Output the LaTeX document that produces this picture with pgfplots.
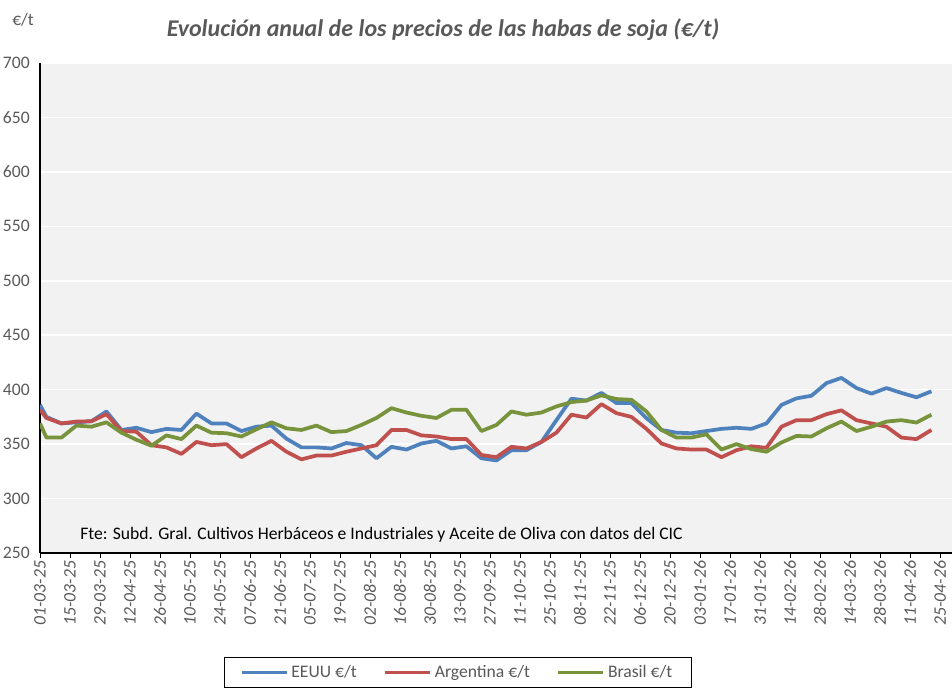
\documentclass[border=0pt]{standalone}
\usepackage{fontspec}
\setmainfont{Carlito}
\usepackage{pgfplots}
\usepackage{pgfplotstable}
\pgfplotsset{compat=1.18}

\definecolor{cblue}{HTML}{4F81BD}
\definecolor{cred}{HTML}{C0504D}
\definecolor{cgreen}{HTML}{77933C}
\definecolor{txtgray}{HTML}{595959}
\definecolor{bggray}{HTML}{F2F2F2}

% x = days since 01-03-25
\pgfplotstableread{
x   eeuu   arg    bra
0   386    381.5  369
3   375    374    356
10  369    369    356
17  370    370.7  367
24  371    371    366
31  380    377.5  370
38  363    362    360.5
45  365    361.4  354
52  361    349    348.5
59  364    347    358
66  363    341    354.6
73  378    352    367
80  369    349    360.5
87  369    350    360
94  362    338    357
101 366    346    363.6
108 367    353    370
115 355    343    364.5
122 347    336    363
129 347    339.5  367
136 346    339.5  361
143 351    343    362
150 349    346    367.6
157 337    349    374
164 347.5  363    383
171 345    363    379
178 350.6  358    376
185 353    357    374
192 346    354.6  381.5
199 348    354.6  381.5
206 337    340    362
213 335    338    367.6
220 344.4  347.5  380
227 344.4  346    377
234 352    352    379
241 372    360.5  384.6
248 391.7  377    388.6
255 390    374.4  390
262 397    386.7  394.8
269 387.7  378.4  391.4
276 387.7  375    390.7
283 373.8  364    380
290 363    350.6  363
297 360.5  346    356
304 360    345    356
311 362    345    359
318 364    338    345
325 365    344.4  350
332 364    348    345.4
339 369    346.6  343
346 386    366    351.5
353 392    372    357.5
360 394.4  372    357
367 406    377.5  364.5
374 410.8  381    370.7
381 401.5  372    362
388 396.3  369    366
395 401.5  366    370.7
402 397    356    372
409 393    354.6  369.8
416 398.5  363    377
}\soja

\begin{document}
\begin{tikzpicture}
\path[use as bounding box] (0,0) rectangle (714pt,516.75pt);
\begin{axis}[
  at={(30pt,102pt)}, anchor=south west,
  scale only axis, width=684pt, height=367.5pt,
  xmin=0, xmax=425.6, ymin=250, ymax=700,
  axis background/.style={fill=bggray},
  axis x line=bottom, axis y line=left,
  axis line style={black, line width=1pt, -},
  ytick={250,300,...,700},
  ymajorgrids, grid style={white, line width=1.2pt},
  ytick style={draw=none},
  yticklabel style={text=txtgray, inner sep=0pt, anchor=east, xshift=-3.75pt},
  xtick={0,14,...,420},
  xticklabels={01-03-25,15-03-25,29-03-25,12-04-25,26-04-25,10-05-25,24-05-25,07-06-25,21-06-25,05-07-25,19-07-25,02-08-25,16-08-25,30-08-25,13-09-25,27-09-25,11-10-25,25-10-25,08-11-25,22-11-25,06-12-25,20-12-25,03-01-26,17-01-26,31-01-26,14-02-26,28-02-26,14-03-26,28-03-26,11-04-26,25-04-26},
  tick align=outside, major tick length=3.75pt,
  xtick style={black, line width=0.75pt},
  xticklabel style={rotate=90, anchor=east, text=txtgray, font=\fontsize{13.2pt}{15pt}\selectfont\itshape, inner sep=2pt},
  tick label style={font=\fontsize{13.2pt}{15pt}\selectfont},
  /pgf/number format/assume math mode=true,
  legend style={at={(0.4578,-0.2122)}, anchor=north, draw=black, line width=0.5pt,
    font=\fontsize{13.2pt}{15pt}\selectfont, text=txtgray, inner xsep=12pt, inner ysep=4pt,
    /tikz/every even column/.append style={column sep=18pt}},
  legend columns=3,
  legend image code/.code={\draw[#1] (0pt,0pt) -- (33.75pt,0pt);},
  every axis plot/.append style={line width=2.8pt, line join=round},
]
\addplot[cblue] table[x=x,y=eeuu]{\soja};
\addplot[cred] table[x=x,y=arg]{\soja};
\addplot[cgreen] table[x=x,y=bra]{\soja};
\legend{EEUU €/t, Argentina €/t, Brasil €/t}
\end{axis}
\node[anchor=center, text=txtgray, font=\fontsize{18pt}{20pt}\selectfont\bfseries\itshape] at (332.25pt,494.25pt) {Evolución anual de los precios de las habas de soja (€/t)};
\node[anchor=west, text=txtgray, font=\fontsize{13.2pt}{15pt}\selectfont, inner sep=0pt] at (9pt,501.75pt) {€/t};
\node[anchor=west, text=black, font=\fontsize{13.2pt}{15pt}\selectfont, inner sep=0pt] at (60pt,115.5pt) {Fte: Subd. Gral. Cultivos Herbáceos e Industriales y Aceite de Oliva con datos del CIC};
\end{tikzpicture}
\end{document}
